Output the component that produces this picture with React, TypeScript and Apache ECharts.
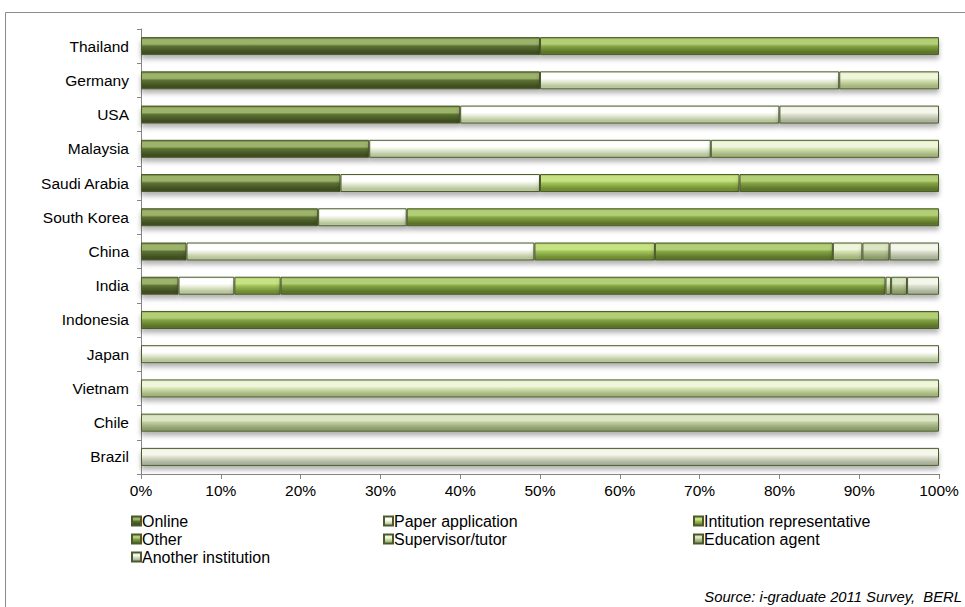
import React, { useEffect, useRef } from "react";
import * as echarts from "echarts";

const countries = ["Thailand", "Germany", "USA", "Malaysia", "Saudi Arabia", "South Korea", "China", "India", "Indonesia", "Japan", "Vietnam", "Chile", "Brazil"];
const seriesNames = ["Online", "Paper application", "Intitution representative", "Other", "Supervisor/tutor", "Education agent", "Another institution"];

// shares in percent, in the order of `countries`
const online = [50, 50, 40, 28.6, 25, 22.2, 5.7, 4.7, 0, 0, 0, 0, 0];
const paperApplication = [0, 37.5, 40, 42.8, 25, 11.1, 43.6, 7.0, 0, 100, 0, 0, 0];
const institutionRep = [0, 0, 0, 0, 25, 0, 15.1, 5.8, 0, 0, 0, 0, 0];
const other = [50, 0, 0, 0, 25, 66.7, 22.3, 75.8, 100, 0, 0, 0, 0];
const supervisorTutor = [0, 12.5, 0, 28.6, 0, 0, 3.7, 0.7, 0, 0, 100, 0, 0];
const educationAgent = [0, 0, 0, 0, 0, 0, 3.4, 2.0, 0, 0, 0, 100, 0];
const anotherInstitution = [0, 0, 20, 0, 0, 0, 6.2, 4.0, 0, 0, 0, 0, 100];

const xTicks = [0, 10, 20, 30, 40, 50, 60, 70, 80, 90, 100];

const seriesValues = [online, paperApplication, institutionRep, other, supervisorTutor, educationAgent, anotherInstitution];

// [highlight, base, dark]
const palette: [string, string, string][] = [
  ["#9db26a", "#5c7233", "#3f4e22"],
  ["#ffffff", "#eef3e1", "#b9c59c"],
  ["#c6e283", "#a2c45a", "#6f8d33"],
  ["#b2cf78", "#86a545", "#5b7429"],
  ["#f0f6dc", "#d6e2b4", "#a4b47c"],
  ["#dce5c4", "#bccb9c", "#8e9d6c"],
  ["#f4f6ec", "#dde2cf", "#aab29a"],
];

function glossy(c: [string, string, string]) {
  return new echarts.graphic.LinearGradient(0, 0, 0, 1, [
    { offset: 0, color: c[1] },
    { offset: 0.12, color: c[0] },
    { offset: 0.38, color: c[0] },
    { offset: 0.5, color: c[1] },
    { offset: 0.85, color: c[2] },
    { offset: 1, color: c[2] },
  ]);
}

const FONT = "Liberation Sans, Arial, sans-serif";

export default function App() {
  const ref = useRef<HTMLDivElement>(null);
  useEffect(() => {
    if (!ref.current) return;
    const chart = echarts.init(ref.current, undefined, { renderer: "svg" });
    const legendCommon = {
      orient: "vertical" as const,
      icon: "rect",
      itemWidth: 9,
      itemHeight: 9,
      itemGap: 2,
      padding: 0,
      selectedMode: false,
      textStyle: { fontFamily: FONT, fontSize: 16, color: "#000", lineHeight: 16, padding: [0, 0, 0, -4] },
    };
    chart.setOption({
      animation: false,
      backgroundColor: "#fff",
      textStyle: { fontFamily: FONT },
      grid: { left: 141, right: 26, top: 29, bottom: 133, containLabel: false },
      xAxis: {
        type: "value",
        min: xTicks[0],
        max: xTicks[xTicks.length - 1],
        interval: 10,
        axisLine: { show: true, lineStyle: { color: "#868686", width: 1 } },
        axisTick: { show: true, length: 5, lineStyle: { color: "#868686" } },
        splitLine: { show: false },
        axisLabel: { color: "#000", fontSize: 15.5, fontFamily: FONT, margin: 8, formatter: "{value}%" },
      },
      yAxis: {
        type: "category",
        data: countries,
        inverse: true,
        axisLine: { show: true, lineStyle: { color: "#868686", width: 1 } },
        axisTick: { show: true, length: 4, lineStyle: { color: "#868686" } },
        axisLabel: { color: "#000", fontSize: 15.5, fontFamily: FONT, margin: 12 },
      },
      legend: [
        { ...legendCommon, left: 131, top: 513, data: ["Online", "Other", "Another institution"] },
        { ...legendCommon, left: 383, top: 513, data: ["Paper application", "Supervisor/tutor"] },
        { ...legendCommon, left: 693, top: 513, data: ["Intitution representative", "Education agent"] },
      ],
      series: seriesNames.map((name, i) => ({
        name,
        type: "bar",
        stack: "total",
        barWidth: 18,
        data: seriesValues[i],
        itemStyle: {
          color: glossy(palette[i]),
          borderColor: "#4b5a2c",
          borderWidth: 1,
          shadowColor: "rgba(0,0,0,0.3)",
          shadowBlur: 5,
          shadowOffsetY: 4,
        },
        emphasis: { disabled: true },
      })),
      graphic: [
        {
          type: "rect",
          silent: true,
          shape: { x: 5.5, y: 12.5, width: 1000, height: 700 },
          style: { fill: "none", stroke: "#8c8c8c", lineWidth: 1 },
          z: -1,
        },
        {
          type: "text",
          right: 3,
          top: 589,
          style: {
            text: "Source: i-graduate 2011 Survey,  BERL",
            fontFamily: FONT,
            fontSize: 14.8,
            fontStyle: "italic",
            fill: "#000",
          },
        },
      ],
    });
    return () => chart.dispose();
  }, []);
  return <div ref={ref} style={{ position: "fixed", left: 0, top: 0, width: 965, height: 607 }} />;
}
